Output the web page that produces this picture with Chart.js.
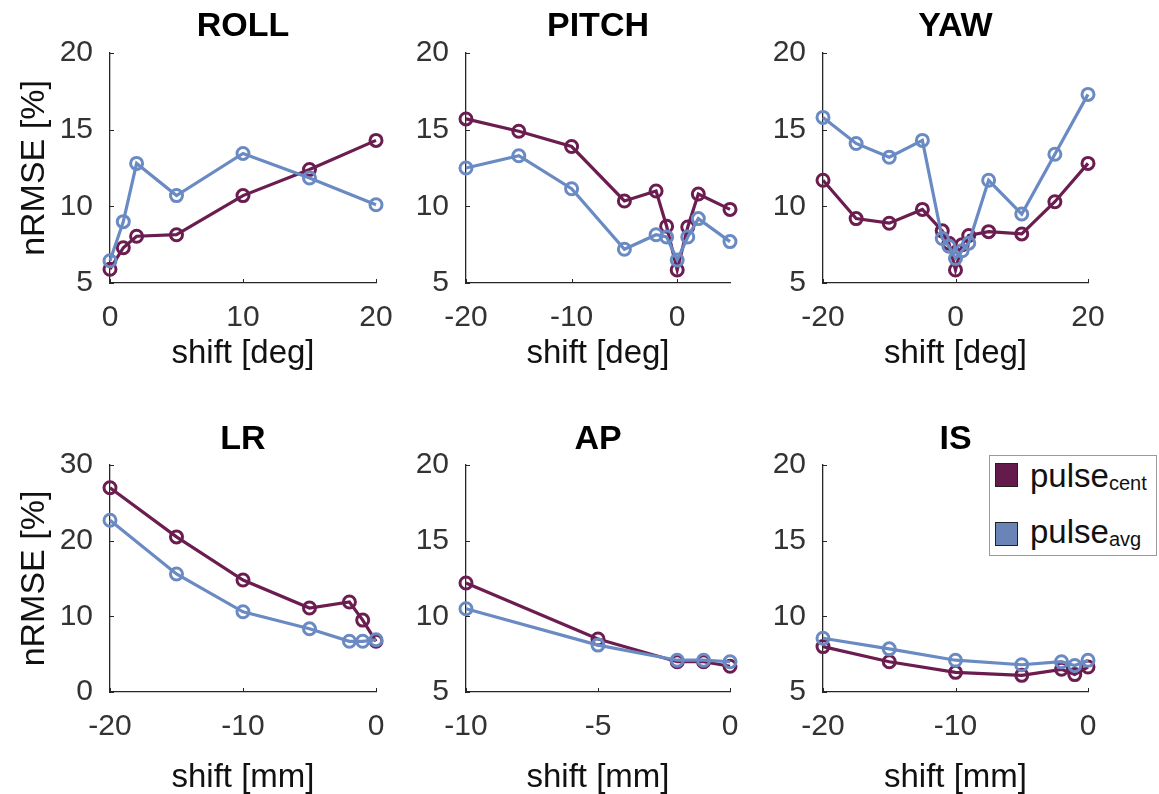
<!DOCTYPE html>
<html>
<head>
<meta charset="utf-8">
<script src="https://cdn.jsdelivr.net/npm/chart.js@4/dist/chart.umd.min.js"></script>
<style>
  html, body { margin: 0; padding: 0; background: #fff; width: 1159px; height: 794px; overflow: hidden; }
  .panel { position: absolute; }
  .panel canvas { display: block; }
  #legend { position: absolute; left: 989px; top: 455px; width: 166px; height: 99px;
            border: 1px solid #9a9a9a; background: #fff;
            font-family: "Liberation Sans", Arial, sans-serif; color: #111; }
  #legend .patch { position: absolute; left: 5px; width: 21px; height: 22px; border: 1.5px solid #222; }
  #legend .label { position: absolute; left: 40px; font-size: 33px; line-height: 32px; white-space: nowrap; }
  #legend sub { font-size: 20px; vertical-align: -3px; line-height: 0; }
</style>
</head>
<body>

<div class="panel" id="p-roll"><canvas id="c-roll"></canvas></div>
<div class="panel" id="p-pitch"><canvas id="c-pitch"></canvas></div>
<div class="panel" id="p-yaw"><canvas id="c-yaw"></canvas></div>
<div class="panel" id="p-lr"><canvas id="c-lr"></canvas></div>
<div class="panel" id="p-ap"><canvas id="c-ap"></canvas></div>
<div class="panel" id="p-is"><canvas id="c-is"></canvas></div>

<div id="legend">
  <div class="patch" style="top:7px;background:#641a4b;"></div>
  <div class="label" style="top:4px;">pulse<sub>cent</sub></div>
  <div class="patch" style="top:66px;background:#6a84b8;"></div>
  <div class="label" style="top:60px;">pulse<sub>avg</sub></div>
</div>

<script>
// ---- rotation shifts [deg] ----
const rollShift  = [0, 1, 2, 5, 10, 15, 20];
const rollCent   = [5.9, 7.3, 8.05, 8.15, 10.7, 12.4, 14.3];
const rollAvg    = [6.45, 9.0, 12.8, 10.7, 13.45, 11.85, 10.1];

const pitchShift = [-20, -15, -10, -5, -2, -1, 0, 1, 2, 5];
const pitchCent  = [15.7, 14.9, 13.9, 10.35, 11.0, 8.7, 5.85, 8.65, 10.8, 9.8];
const pitchAvg   = [12.5, 13.3, 11.15, 7.2, 8.15, 8.0, 6.5, 8.0, 9.2, 7.7];

const yawShift   = [-20, -15, -10, -5, -2, -1, 0, 1, 2, 5, 10, 15, 20];
const yawCent    = [11.7, 9.2, 8.9, 9.8, 8.4, 7.6, 5.85, 7.5, 8.1, 8.35, 8.2, 10.3, 12.8];
const yawAvg     = [15.8, 14.1, 13.2, 14.3, 7.9, 7.4, 6.6, 7.1, 7.6, 11.7, 9.5, 13.4, 17.3];

// ---- translation shifts [mm] ----
const lrShift    = [-20, -15, -10, -5, -2, -1, 0];
const lrCent     = [27.0, 20.5, 14.8, 11.1, 11.9, 9.5, 6.7];
const lrAvg      = [22.7, 15.6, 10.6, 8.35, 6.7, 6.7, 6.9];

const apShift    = [-10, -5, -2, -1, 0];
const apCent     = [12.2, 8.5, 7.0, 7.0, 6.7];
const apAvg      = [10.5, 8.1, 7.1, 7.1, 7.0];

const isShift    = [-20, -15, -10, -5, -2, -1, 0];
const isCent     = [8.0, 7.0, 6.3, 6.1, 6.5, 6.15, 6.65];
const isAvg      = [8.55, 7.85, 7.1, 6.8, 7.0, 6.75, 7.1];

// ---- tick values ----
const rollTicks  = [0, 10, 20];
const pitchTicks = [-20, -10, 0];
const yawTicks   = [-20, 0, 20];
const lrTicks    = [-20, -10, 0];
const apTicks    = [-10, -5, 0];
const isTicks    = [-20, -10, 0];
const pctTicks   = [5, 10, 15, 20];
const lrPctTicks = [0, 10, 20, 30];

const seriesNames = ['pulse_cent', 'pulse_avg'];

// ---- styling ----
const FONT = '"Liberation Sans", Arial, sans-serif';
const CENT_COLOR = '#6b1d50';
const AVG_COLOR  = '#6a8ac3';
const AXIS_COLOR = '#262626';
const TICK_TEXT  = '#333333';

Chart.defaults.font.family = FONT;

// MATLAB-style short tick marks pointing into the axes
const innerTicks = {
  id: 'innerTicks',
  afterDraw(chart) {
    const { ctx, chartArea, scales } = chart;
    const x = scales.x, y = scales.y;
    ctx.save();
    ctx.strokeStyle = AXIS_COLOR;
    ctx.lineWidth = 1;
    ctx.beginPath();
    x.ticks.forEach(t => {
      const px = Math.round(x.getPixelForValue(t.value)) + 0.5;
      ctx.moveTo(px, chartArea.bottom);
      ctx.lineTo(px, chartArea.bottom - 4);
    });
    y.ticks.forEach(t => {
      const py = Math.round(y.getPixelForValue(t.value)) + 0.5;
      ctx.moveTo(chartArea.left, py);
      ctx.lineTo(chartArea.left + 4, py);
    });
    ctx.stroke();
    ctx.restore();
  }
};

function toPoints(xs, ys) {
  return xs.map((v, i) => ({ x: v, y: ys[i] }));
}

function makeDataset(label, xs, ys, color, order) {
  return {
    label,
    data: toPoints(xs, ys),
    borderColor: color,
    backgroundColor: color,
    borderWidth: 3.2,
    pointRadius: 6,
    pointBorderWidth: 3,
    pointBackgroundColor: 'rgba(0,0,0,0)',
    pointBorderColor: color,
    pointHoverRadius: 6,
    tension: 0,
    clip: false,
    order
  };
}

// Row / column geometry of the 2x3 grid
const rows = [
  { top: 0,   height: 390, titleCenter: 27, titleBlock: 53, xAxisHeight: 107, xTitlePad: 19.5 },
  { top: 390, height: 404, titleCenter: 50, titleBlock: 75, xAxisHeight: 102, xTitlePad: 0 }
];
const cols = [
  { left: 0,   width: 420, yAxisWidth: 110, rightPad: 44 },
  { left: 390, width: 380, yAxisWidth: 76,  rightPad: 40 },
  { left: 760, width: 399, yAxisWidth: 63,  rightPad: 71 }
];

const panels = [
  { id: 'roll',  title: 'ROLL',  row: 0, col: 0, shift: rollShift,  cent: rollCent,  avg: rollAvg,
    xMin: 0,   xMax: 20, xTicks: rollTicks,  yMin: 5, yMax: 20, yTicks: pctTicks,   xLabel: 'shift [deg]' },
  { id: 'pitch', title: 'PITCH', row: 0, col: 1, shift: pitchShift, cent: pitchCent, avg: pitchAvg,
    xMin: -20, xMax: 5,  xTicks: pitchTicks, yMin: 5, yMax: 20, yTicks: pctTicks,   xLabel: 'shift [deg]' },
  { id: 'yaw',   title: 'YAW',   row: 0, col: 2, shift: yawShift,   cent: yawCent,   avg: yawAvg,
    xMin: -20, xMax: 20, xTicks: yawTicks,   yMin: 5, yMax: 20, yTicks: pctTicks,   xLabel: 'shift [deg]' },
  { id: 'lr',    title: 'LR',    row: 1, col: 0, shift: lrShift,    cent: lrCent,    avg: lrAvg,
    xMin: -20, xMax: 0,  xTicks: lrTicks,    yMin: 0, yMax: 30, yTicks: lrPctTicks, xLabel: 'shift [mm]' },
  { id: 'ap',    title: 'AP',    row: 1, col: 1, shift: apShift,    cent: apCent,    avg: apAvg,
    xMin: -10, xMax: 0,  xTicks: apTicks,    yMin: 5, yMax: 20, yTicks: pctTicks,   xLabel: 'shift [mm]' },
  { id: 'is',    title: 'IS',    row: 1, col: 2, shift: isShift,    cent: isCent,    avg: isAvg,
    xMin: -20, xMax: 0,  xTicks: isTicks,    yMin: 5, yMax: 20, yTicks: pctTicks,   xLabel: 'shift [mm]' }
];

const TITLE_SIZE = 34, TITLE_LH = 1.2;

panels.forEach(p => {
  const r = rows[p.row], c = cols[p.col];
  const box = document.getElementById('p-' + p.id);
  box.style.left = c.left + 'px';
  box.style.top = r.top + 'px';
  const canvas = document.getElementById('c-' + p.id);
  canvas.width = c.width;
  canvas.height = r.height;
  canvas.style.width = c.width + 'px';
  canvas.style.height = r.height + 'px';

  const titleLine = TITLE_SIZE * TITLE_LH;
  const titleTop = r.titleCenter - titleLine / 2;
  const titleBottom = r.titleBlock - titleLine - titleTop;

  new Chart(canvas, {
    type: 'line',
    data: {
      datasets: [
        makeDataset(seriesNames[0], p.shift, p.cent, CENT_COLOR, 2),
        makeDataset(seriesNames[1], p.shift, p.avg, AVG_COLOR, 1)
      ]
    },
    options: {
      responsive: false,
      devicePixelRatio: 1,
      animation: false,
      events: [],
      layout: { padding: { left: 0, top: 0, right: c.rightPad, bottom: 0 } },
      plugins: {
        legend: { display: false },
        tooltip: { enabled: false },
        title: {
          display: true,
          text: p.title,
          fullSize: false,
          color: '#000',
          font: { size: TITLE_SIZE, weight: 'bold', lineHeight: TITLE_LH },
          padding: { top: titleTop, bottom: titleBottom }
        }
      },
      scales: {
        x: {
          type: 'linear',
          min: p.xMin,
          max: p.xMax,
          afterBuildTicks: s => { s.ticks = p.xTicks.map(v => ({ value: v })); },
          afterFit: s => { s.height = r.xAxisHeight; },
          grid: { display: false, drawTicks: false },
          border: { display: true, color: AXIS_COLOR, width: 1.3 },
          ticks: {
            color: TICK_TEXT,
            font: { size: 30, lineHeight: 1.2 },
            padding: 17,
            maxRotation: 0,
            autoSkip: false,
            callback: v => String(v)
          },
          title: {
            display: true,
            text: p.xLabel,
            color: '#111',
            font: { size: 33, lineHeight: 1 },
            padding: { top: 0, bottom: r.xTitlePad }
          }
        },
        y: {
          type: 'linear',
          min: p.yMin,
          max: p.yMax,
          afterBuildTicks: s => { s.ticks = p.yTicks.map(v => ({ value: v })); },
          afterFit: s => { s.width = c.yAxisWidth; },
          grid: { display: false, drawTicks: false },
          border: { display: true, color: AXIS_COLOR, width: 1.3 },
          ticks: {
            color: TICK_TEXT,
            font: { size: 30, lineHeight: 1.2 },
            padding: 17,
            autoSkip: false,
            callback: v => String(v)
          },
          title: {
            display: p.col === 0,
            text: 'nRMSE [%]',
            color: '#111',
            font: { size: 34, lineHeight: 1 },
            padding: { top: 18, bottom: 0 }
          }
        }
      }
    },
    plugins: [innerTicks]
  });
});
</script>
</body>
</html>
